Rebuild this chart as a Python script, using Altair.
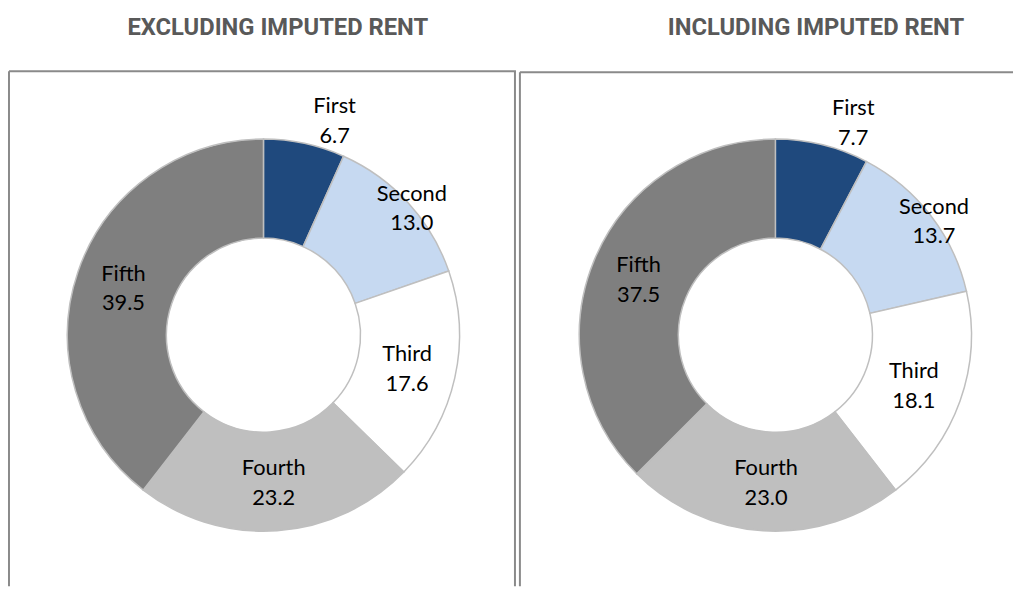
import altair as alt
import pandas as pd

# ---- data ----
categories = ["First", "Second", "Third", "Fourth", "Fifth"]
excluding = [6.7, 13.0, 17.6, 23.2, 39.5]
including = [7.7, 13.7, 18.1, 23.0, 37.5]
titles = ["EXCLUDING IMPUTED RENT", "INCLUDING IMPUTED RENT"]

# ---- styles ----
colors = ["#1F497D", "#C6D9F1", "#FFFFFF", "#BFBFBF", "#7F7F7F"]
label_radius = {"First": 228, "Second": 197, "Third": 149, "Fourth": 150, "Fifth": 149}
label_turn = {"First": 6.3, "Second": 2.0, "Third": 0.6, "Fourth": 0.0, "Fifth": -0.5}

LABEL_FONT = "Lato"
TITLE_FONT = "Roboto"
BOX_COLOR = "#8A8A8A"
PANEL_H = 581


def panel(values, title, width, cx, cy, title_x, top_y, right_border):
    df = pd.DataFrame({
        "cat": categories,
        "v": values,
        "idx": list(range(len(categories))),
        "lr": [label_radius[c] for c in categories],
        "turn": [label_turn[c] for c in categories],
    })

    arc = alt.Chart(df).mark_arc(
        radius=198, innerRadius=98, stroke="#BFBFBF", strokeWidth=1.5
    ).encode(
        theta=alt.Theta("v:Q", stack=True),
        order=alt.Order("idx:Q", sort="ascending"),
        color=alt.Color("cat:N", scale=alt.Scale(domain=categories, range=colors), legend=None),
        x=alt.value(cx),
        y=alt.value(cy),
    )

    text = alt.Chart(df).transform_window(
        cum="sum(v)", sort=[alt.SortField("idx", order="ascending")], frame=[None, 0]
    ).transform_joinaggregate(
        total="sum(v)"
    ).transform_calculate(
        ang="(datum.cum - datum.v / 2) / datum.total * 2 * PI + datum.turn * PI / 180",
        label="datum.cat + '\\n' + format(datum.v, '.1f')",
    ).mark_text(
        font=LABEL_FONT, fontSize=22, lineHeight=30, lineBreak="\n", dy=-15,
        color="#000000", align="center", baseline="middle",
    ).encode(
        theta=alt.Theta("ang:Q", scale=None, stack=False),
        radius=alt.Radius("lr:Q", scale=None),
        text=alt.Text("label:N"),
        x=alt.value(cx),
        y=alt.value(cy),
    )

    one = alt.Data(values=[{}])
    title_mark = alt.Chart(one).mark_text(
        text=title, font=TITLE_FONT, fontSize=24, fontWeight="bold",
        color="#595959", align="center", baseline="alphabetic",
    ).encode(x=alt.value(title_x), y=alt.value(24))

    left_line = alt.Chart(one).mark_rule(color=BOX_COLOR, strokeWidth=2).encode(
        x=alt.value(0), y=alt.value(top_y), y2=alt.value(PANEL_H)
    )
    top_line = alt.Chart(one).mark_rule(color=BOX_COLOR, strokeWidth=2).encode(
        x=alt.value(0), x2=alt.value(width), y=alt.value(top_y)
    )
    layers = [arc, text, title_mark, left_line, top_line]
    if right_border:
        layers.append(
            alt.Chart(one).mark_rule(color=BOX_COLOR, strokeWidth=2).encode(
                x=alt.value(width - 1), y=alt.value(top_y), y2=alt.value(PANEL_H)
            )
        )
    return alt.layer(*layers).resolve_scale(theta="independent", radius="independent").properties(
        width=width, height=PANEL_H
    )


left = panel(excluding, titles[0], 512, 257, 327.5, 271.5, 61, True)
right = panel(including, titles[1], 498, 258, 327.5, 299, 62, False)

chart = alt.hconcat(left, right, spacing=2).properties(padding=0).configure_view(stroke=None)

chart.save("out.html", embed_options={"renderer": "svg", "actions": False})
